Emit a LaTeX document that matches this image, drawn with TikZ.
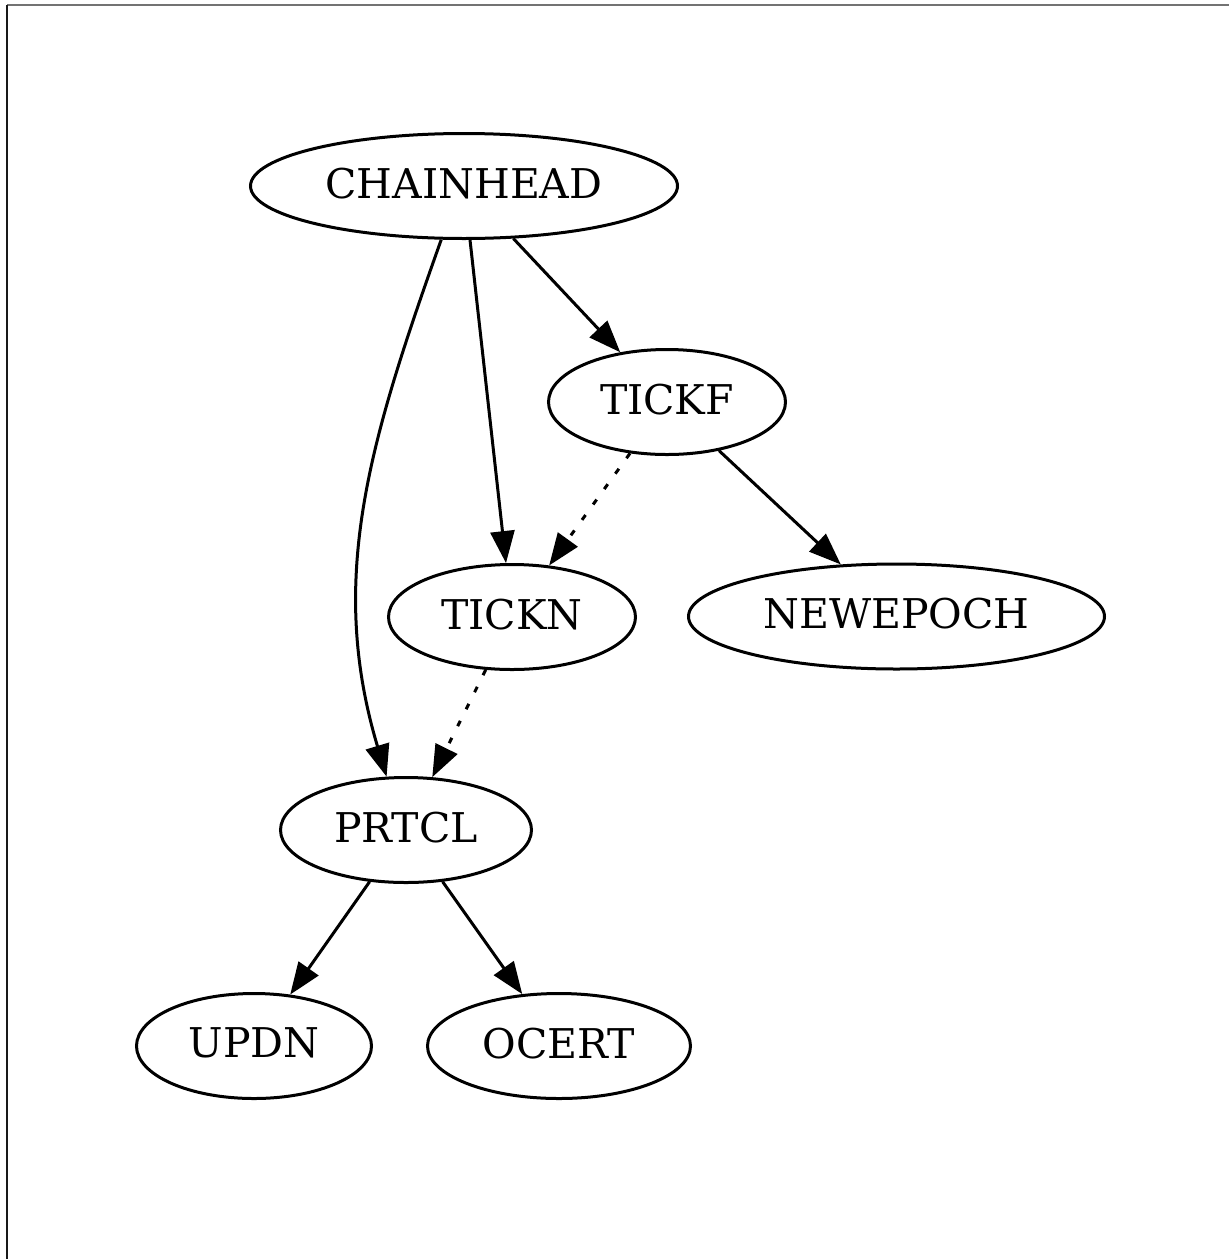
\documentclass[tikz,border=0pt]{standalone}
\usepackage{fontspec}
\setmainfont{DejaVu Serif}
\usetikzlibrary{shapes.geometric,arrows.meta}
\begin{document}
\begin{tikzpicture}[x=1pt,y=-1pt,
  gnode/.style={draw=black,line width=3pt,ellipse,inner sep=0pt,
    font=\fontsize{41}{49}\selectfont,text depth=6pt},
  gedge/.style={line width=3pt,-{Triangle[length=32pt,width=24pt]}},
  gdot/.style={gedge,dash pattern=on 6pt off 13pt},
  frameline/.style={line width=2pt}]
\useasboundingbox (0,0) rectangle (1229,1259);
\draw[frameline,black!55] (1229,4.5) -- (6.5,4.5);
\draw[frameline,black!90] (6.5,4.5) -- (6.5,1259);
\node[gnode,minimum width=427pt,minimum height=105pt] (ch) at (464,186) {CHAINHEAD};
\node[gnode,minimum width=237pt,minimum height=105pt] (tickf) at (667,402) {TICKF};
\node[gnode,minimum width=247pt,minimum height=105pt] (tickn) at (512,617) {TICKN};
\node[gnode,minimum width=416pt,minimum height=105pt] (newepoch) at (896.5,616.5) {NEWEPOCH};
\node[gnode,minimum width=251pt,minimum height=105pt] (prtcl) at (406,830) {PRTCL};
\node[gnode,minimum width=235pt,minimum height=105pt] (updn) at (254,1046) {UPDN};
\node[gnode,minimum width=263pt,minimum height=105pt] (ocert) at (559,1046) {OCERT};
\draw[gedge] (ch.-113) .. controls (370,440) and (327,578) .. (prtcl.110);
\draw[gedge] (ch) -- (tickn);
\draw[gedge] (ch) -- (tickf);
\draw[gdot] (tickf) -- (tickn);
\draw[gedge] (tickf) -- (newepoch);
\draw[gdot] (tickn) -- (prtcl);
\draw[gedge] (prtcl) -- (updn);
\draw[gedge] (prtcl) -- (ocert);
\end{tikzpicture}
\end{document}
